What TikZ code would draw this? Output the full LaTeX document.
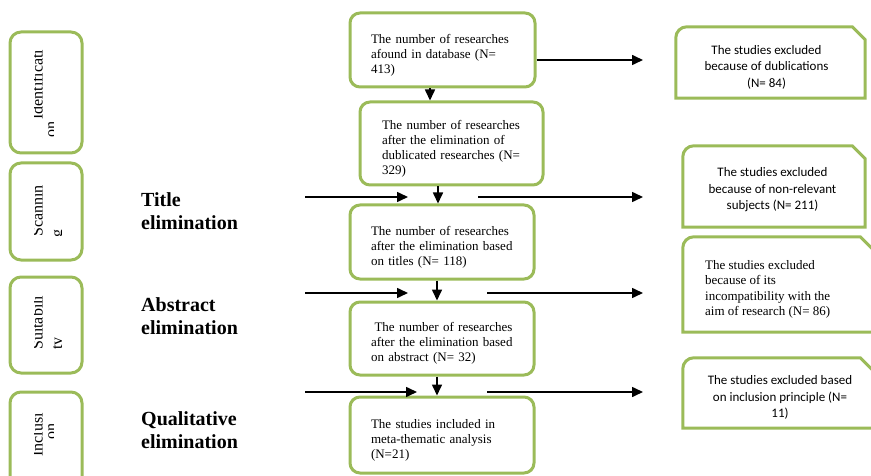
\documentclass[tikz,border=0pt]{standalone}
\usepackage{fontspec}
\setmainfont{Liberation Serif}
\newfontfamily\calib{Carlito}
\usetikzlibrary{arrows.meta,calc}
\definecolor{boxgreen}{HTML}{9BBB59}
\newcommand\tgap{\rule{0pt}{19.5pt}}
\begin{document}
\begin{tikzpicture}[x=1pt,y=-1pt,
  mainbox/.style={draw=boxgreen, line width=3pt, rounded corners=10pt, align=left,
    font=\fontsize{13}{15}\selectfont, inner ysep=0pt},
  sidebox/.style={draw=boxgreen, line width=3pt, rounded corners=11pt},
  snipshape/.style={inner sep=0pt},
  snipline/.style={draw=boxgreen, line width=3pt, line join=miter},
  calibtext/.style={align=center, font=\calib\fontsize{13}{16.5}\selectfont},
  timestext/.style={align=left, font=\fontsize{13}{15.5}\selectfont},
  sidetext/.style={rotate=90, anchor=base west, inner sep=0pt, font=\fontsize{16}{18}\selectfont},
  steplabel/.style={anchor=west, align=left, inner sep=0pt, font=\bfseries\fontsize{20}{23}\selectfont},
  arr/.style={draw=black, line width=1.6pt, -{Triangle[length=11pt,width=10pt]}}
]
\useasboundingbox (0,0) rectangle (871,476);

% ---------- left side boxes ----------
\node[sidebox, minimum width=72pt, minimum height=121pt] (s1) at (46,92.5) {};
\node[sidebox, minimum width=72pt, minimum height=97pt] (s2) at (46,211.5) {};
\node[sidebox, minimum width=72pt, minimum height=96pt] (s3) at (46,325) {};
\node[sidebox, minimum width=72pt, minimum height=96pt] (s4) at (46,440) {};

\begin{scope}
\clip (34.5,35) rectangle (53,150);
\node[sidetext] (s1a) at (42.5,120) {Identificati};
\node[sidetext] (s1b) at (56,138) {on};
\end{scope}
\begin{scope}
\clip (34.5,166) rectangle (61,257);
\node[sidetext] (s2a) at (42.5,237) {Scannin};
\node[sidetext] (s2b) at (62,238) {g};
\end{scope}
\begin{scope}
\clip (34.5,280) rectangle (61,370);
\node[sidetext] (s3a) at (42.5,350) {Suitabili};
\node[sidetext] (s3b) at (62,350) {ty};
\end{scope}
\begin{scope}
\clip (34.5,395) rectangle (53,476);
\node[sidetext] (s4a) at (42.5,457) {Inclusi};
\node[sidetext] (s4b) at (56,440) {on};
\end{scope}

% ---------- step labels ----------
\node[steplabel] (l1) at (141,211.5) {Title\\elimination};
\node[steplabel] (l2) at (141,316.5) {Abstract\\elimination};
\node[steplabel] (l3) at (141,430.5) {Qualitative\\elimination};

% ---------- main column ----------
\node[mainbox, minimum width=185pt, minimum height=74pt, text width=143pt, inner xsep=21pt] (A) at (442.5,50)
  {\tgap The number of researches\\afound in database (N=\\413)};
\node[mainbox, minimum width=183pt, minimum height=83pt, text width=139pt, inner xsep=22pt] (B) at (451.5,143.5)
  {\tgap The number of researches\\after the elimination of\\dublicated researches (N=\\329)};
\node[mainbox, minimum width=184pt, minimum height=74pt, text width=142pt, inner xsep=21pt] (C) at (442,242)
  {\tgap The number of researches\\after the elimination based\\on titles (N= 118)};
\node[mainbox, minimum width=184pt, minimum height=73pt, text width=142pt, inner xsep=21pt] (D) at (442,338.5)
  {\tgap\hspace*{3.5pt}The number of researches\\after the elimination based\\on abstract (N= 32)};
\node[mainbox, minimum width=184pt, minimum height=76pt, text width=142pt, inner xsep=21pt] (E) at (442,435)
  {\tgap The studies included in\\meta-thematic analysis\\(N=21)};

% ---------- right column (snipped corner boxes) ----------
\node[snipshape, minimum width=189pt, minimum height=71pt] (R1) at (770.5,62.5) {};
\node[snipshape, minimum width=182pt, minimum height=81pt] (R2) at (774,186.5) {};
\node[snipshape, minimum width=190pt, minimum height=95pt] (R3) at (778,284.5) {};
\node[snipshape, minimum width=190pt, minimum height=70pt] (R4) at (778,393) {};
\foreach \r in {R1,R2,R3,R4}{
  \draw[snipline] (\r.south west) [rounded corners=11pt] -- (\r.north west) [sharp corners]
    -- ([xshift=-13pt]\r.north east) -- ([yshift=-13pt]\r.north east) -- (\r.south east) -- cycle;
}
\node[calibtext] (t1) at (766.5,67) {The studies excluded\\because of dublications\\(N= 84)};
\node[calibtext] (t2) at (772.5,190) {The studies excluded\\because of non-relevant\\subjects (N= 211)};
\node[timestext, anchor=west, inner sep=0pt] (t3) at (705,289.5) {The studies excluded\\because of its\\incompatibility with the\\aim of research (N= 86)};
\node[calibtext] (t4) at (780,397.5) {The studies excluded based\\on inclusion principle (N=\\11)};

% ---------- connectors ----------
\coordinate (v1) at (430,0);
\coordinate (v2) at (438,0);
\coordinate (v3) at (437,0);
\draw[arr] (A.south -| v1) -- (B.north -| v1);
\draw[arr] (B.south -| v2) -- (C.north -| v2);
\draw[arr] (C.south -| v3) -- (D.north -| v3);
\draw[arr] (D.south -| v3) -- (E.north -| v3);

\coordinate (o1) at (643,60);
\draw[arr] (A.east |- o1) -- (o1);

\coordinate (p2) at (305,197); \coordinate (q2) at (408,197);
\coordinate (m2) at (478,197); \coordinate (o2) at (643,197);
\draw[arr] (p2) -- (q2);
\draw[arr] (m2) -- (o2);

\coordinate (p3) at (305,293); \coordinate (q3) at (408,293);
\coordinate (m3) at (487,293); \coordinate (o3) at (643,293);
\draw[arr] (p3) -- (q3);
\draw[arr] (m3) -- (o3);

\coordinate (p4) at (305,392); \coordinate (q4) at (417,392);
\coordinate (m4) at (487,392); \coordinate (o4) at (643,392);
\draw[arr] (p4) -- (q4);
\draw[arr] (m4) -- (o4);
\end{tikzpicture}
\end{document}
